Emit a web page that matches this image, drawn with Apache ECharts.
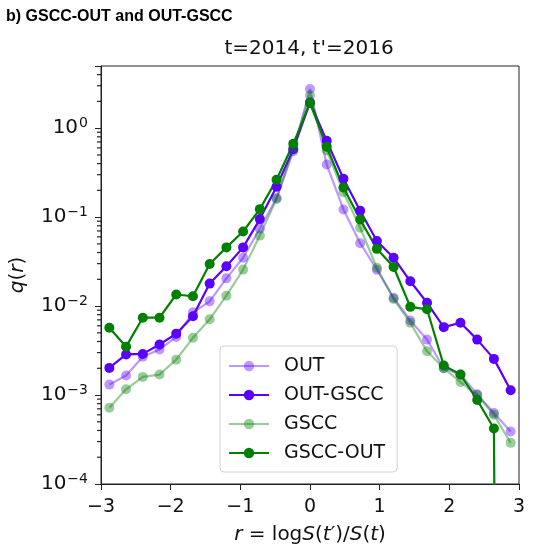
<!DOCTYPE html>
<html lang="en">
  <head>
    <meta charset="UTF-8" />
    <title>q(r) for OUT, OUT-GSCC, GSCC, GSCC-OUT</title>
    <script src="https://cdn.jsdelivr.net/npm/echarts@6/dist/echarts.min.js"></script>
    <style>
      html, body { margin: 0; padding: 0; background: #fff; }
      #main { width: 539px; height: 550px; }
    </style>
  </head>
  <body>
    <div id="main"></div>

    <script>
      // bin centres of r = log S(t')/S(t)
      const rValues = [-2.88, -2.64, -2.4, -2.16, -1.92, -1.68, -1.44, -1.2, -0.96, -0.72, -0.48, -0.24,
        0, 0.24, 0.48, 0.72, 0.96, 1.2, 1.44, 1.68, 1.92, 2.16, 2.4, 2.64, 2.88];

      // q(r)
      const qOut = [0.00131, 0.00166, 0.0027, 0.00325, 0.0045, 0.0085, 0.0113, 0.0205, 0.035, 0.074, 0.164, 0.55,
        2.76, 0.39, 0.122, 0.051, 0.0256, 0.0124, 0.0069, 0.0042, 0.0020, 0.0017, 0.00102, 0.00063, 0.00039];
      const qOutGscc = [0.00202, 0.00286, 0.0029, 0.0037, 0.0049, 0.0077, 0.0179, 0.028, 0.0457, 0.095, 0.22, 0.58,
        1.95, 0.72, 0.27, 0.118, 0.054, 0.035, 0.019, 0.0109, 0.0058, 0.0065, 0.0042, 0.00255, 0.00113];
      const qGscc = [0.00072, 0.00116, 0.0016, 0.0017, 0.0025, 0.0044, 0.0071, 0.0131, 0.0257, 0.062, 0.16, 0.6,
        2.35, 0.56, 0.19, 0.076, 0.027, 0.012, 0.0065, 0.0031, 0.0020, 0.0014, 0.0010, 0.0006, 0.00029];
      const qGsccOut = [0.0057, 0.0035, 0.0074, 0.0074, 0.0135, 0.0129, 0.0297, 0.0457, 0.069, 0.123, 0.263, 0.667,
        1.91, 0.62, 0.215, 0.094, 0.044, 0.0275, 0.0098, 0.0092, 0.00215, 0.0017, 0.00088, 0.00042, 0];

      const xTicks = [-3, -2, -1, 0, 1, 2, 3];
      const yMinorTicks = [
        2e-4, 3e-4, 4e-4, 5e-4, 6e-4, 7e-4, 8e-4, 9e-4,
        2e-3, 3e-3, 4e-3, 5e-3, 6e-3, 7e-3, 8e-3, 9e-3,
        2e-2, 3e-2, 4e-2, 5e-2, 6e-2, 7e-2, 8e-2, 9e-2,
        2e-1, 3e-1, 4e-1, 5e-1, 6e-1, 7e-1, 8e-1, 9e-1,
        2, 3, 4
      ];

      const FONT = 'DejaVu Sans';
      // q = 0 falls off a log axis, like matplotlib's clipping
      const LOG_FLOOR = 1e-30;

      const seriesDefs = [
        { name: 'OUT', data: qOut, color: '#5a00ff', alpha: 0.4 },
        { name: 'OUT-GSCC', data: qOutGscc, color: '#5a00ff', alpha: 1 },
        { name: 'GSCC', data: qGscc, color: '#008000', alpha: 0.4 },
        { name: 'GSCC-OUT', data: qGsccOut, color: '#008000', alpha: 1 },
      ];

      const minus = (v) => (v < 0 ? '\u2212' + -v : String(v));

      const lineSeries = seriesDefs.map(({ name, data, color, alpha }) => ({
        name,
        type: 'line',
        data: rValues.map((r, i) => [r, data[i] > 0 ? data[i] : LOG_FLOOR]),
        symbol: 'circle',
        symbolSize: 10,
        showSymbol: true,
        color: color,
        itemStyle: { color: color, opacity: alpha },
        lineStyle: { color: color, width: 2.2, opacity: alpha },
        emphasis: { disabled: true },
        clip: true,
      }));

      // log minor ticks (2..9 per decade) as short dashes left of the y axis
      const minorTickSeries = {
        type: 'scatter',
        silent: true,
        clip: false,
        symbol: 'rect',
        symbolSize: [4, 1.2],
        symbolOffset: [-2, 0],
        itemStyle: { color: '#222', opacity: 1 },
        emphasis: { disabled: true },
        z: 5,
        data: yMinorTicks.map((v) => [xTicks[0], v]),
      };

      const options = {
        animation: false,
        grid: {
          left: 97.5, right: 20, top: 66, bottom: 65,
          containLabel: false,
          show: true, borderColor: '#222', borderWidth: 1, backgroundColor: 'transparent',
        },
        graphic: [
          {
            type: 'text', left: 6, top: 9,
            style: { text: 'b) GSCC-OUT and OUT-GSCC', font: 'bold 16px "Liberation Sans"', fill: '#000' },
          },
          {
            type: 'text', x: 309, y: 49,
            style: {
              text: "t=2014, t'=2016", font: '20px "DejaVu Sans"', fill: '#111',
              align: 'center', verticalAlign: 'middle',
            },
          },
        ],
        legend: {
          left: 220, top: 346,
          orient: 'vertical',
          data: seriesDefs.map((d) => d.name),
          itemWidth: 40, itemHeight: 13, itemGap: 7,
          padding: [9, 12, 8, 8],
          borderColor: '#d0d0d0', borderWidth: 1, borderRadius: 4,
          backgroundColor: 'rgba(255,255,255,0.85)',
          selectedMode: false,
          textStyle: { fontSize: 19, fontFamily: FONT, color: '#111', padding: [0, 0, 0, 10], lineHeight: 22 },
        },
        xAxis: {
          type: 'value', min: -3, max: 3, interval: 1,
          axisLine: { show: true, onZero: false, lineStyle: { color: '#222', width: 1 } },
          axisTick: { show: true, length: 6, lineStyle: { color: '#222' } },
          splitLine: { show: false },
          axisLabel: {
            fontSize: 19, fontFamily: FONT, color: '#111', margin: 14,
            formatter: (v) => (xTicks.includes(v) ? minus(v) : ''),
          },
          name: '{i|r} = log{i|S}({i|t}\u2032)/{i|S}({i|t})',
          nameLocation: 'middle', nameGap: 41,
          nameTextStyle: {
            fontSize: 20, fontFamily: FONT, color: '#111',
            rich: { i: { fontSize: 20, fontFamily: FONT, fontStyle: 'italic', color: '#111' } },
          },
        },
        yAxis: {
          type: 'log', logBase: 10, min: 1e-4, max: 5,
          axisLine: { show: true, onZero: false, lineStyle: { color: '#222', width: 1 } },
          axisTick: { show: true, length: 6, lineStyle: { color: '#222' } },
          splitLine: { show: false },
          axisLabel: {
            margin: 13, color: '#111',
            formatter: function (v) {
              const e = Math.log10(v);
              if (Math.abs(e - Math.round(e)) > 1e-6) return '';
              return '{b|10}{s|' + minus(Math.round(e)) + '}';
            },
            rich: {
              b: { fontSize: 20, fontFamily: FONT, color: '#111', lineHeight: 24 },
              s: { fontSize: 14, fontFamily: FONT, color: '#111', verticalAlign: 'top', lineHeight: 14, padding: [0, 0, 0, 1] },
            },
          },
          name: '{i|q}({i|r})',
          nameLocation: 'middle', nameGap: 73,
          nameTextStyle: {
            fontSize: 20, fontFamily: FONT, color: '#111',
            rich: { i: { fontSize: 20, fontFamily: FONT, fontStyle: 'italic', color: '#111' } },
          },
        },
        series: [...lineSeries, minorTickSeries],
      };

      const myChart = echarts.init(document.getElementById('main'));
      myChart.setOption(options);

      window.onresize = function () {
        myChart.resize();
      };
    </script>
  </body>
</html>
